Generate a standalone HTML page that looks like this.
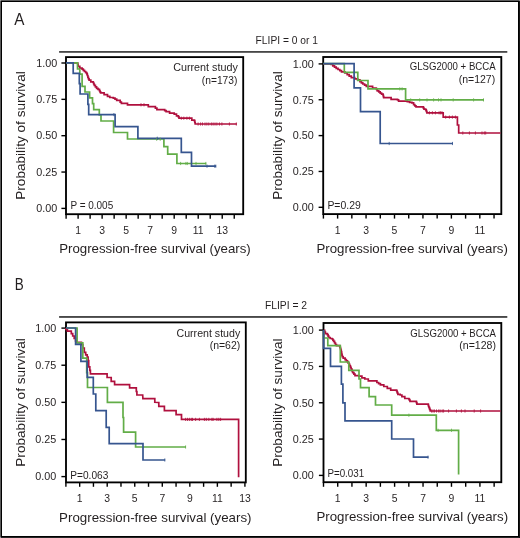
<!DOCTYPE html>
<html><head><meta charset="utf-8"><title>Kaplan-Meier curves</title>
<style>html,body{margin:0;padding:0;background:#fff;width:520px;height:538px;overflow:hidden;font-family:"Liberation Sans",sans-serif;}</style>
</head><body>
<svg width="520" height="538" viewBox="0 0 520 538" style="display:block;will-change:transform;font-family:'Liberation Sans', sans-serif">
<rect x="0" y="0" width="520" height="538" fill="#fff"/>
<rect x="0" y="0" width="520" height="1" fill="#5c5c5c"/>
<rect x="0" y="0" width="1" height="538" fill="#5a5a5a"/>
<rect x="0" y="537" width="520" height="1" fill="#262626"/>
<rect x="519" y="0" width="1" height="538" fill="#141414"/>
<rect x="1" y="1" width="518" height="1" fill="#000"/>
<rect x="1" y="1" width="1" height="536" fill="#000"/>
<rect x="1" y="536" width="518" height="1" fill="#000"/>
<rect x="518" y="1" width="1" height="536" fill="#000"/>
<rect x="0" y="0" width="1" height="1" fill="#999"/>
<rect x="519" y="0" width="1" height="1" fill="#888"/>
<rect x="0" y="537" width="1" height="1" fill="#999"/>
<text x="14.3" y="24.9" font-size="16.2" text-anchor="start" textLength="10.2" lengthAdjust="spacingAndGlyphs" fill="#231f20">A</text>
<text x="14.7" y="290.1" font-size="16.2" text-anchor="start" textLength="9.0" lengthAdjust="spacingAndGlyphs" fill="#231f20">B</text>
<text x="286.75" y="44.2" font-size="10.6" text-anchor="middle" textLength="62.3" lengthAdjust="spacingAndGlyphs" fill="#231f20">FLIPI = 0 or 1</text>
<rect x="59.1" y="51" width="448.2" height="1" fill="#474747"/>
<rect x="59.1" y="52" width="448.2" height="1" fill="#6a6a6a"/>
<text x="286.0" y="309.2" font-size="10.6" text-anchor="middle" textLength="42.2" lengthAdjust="spacingAndGlyphs" fill="#231f20">FLIPI = 2</text>
<rect x="59.1" y="316" width="448.2" height="1" fill="#484848"/>
<rect x="59.1" y="317" width="448.2" height="1" fill="#5c5c5c"/>
<rect x="66.0" y="57.1" width="177.2" height="157.1" fill="none" stroke="#000" stroke-width="1.85"/>
<line x1="61.4" y1="208.4" x2="66.0" y2="208.4" stroke="#000" stroke-width="1.4"/>
<text x="57.3" y="212.15" font-size="10.4" text-anchor="end" textLength="21.0" lengthAdjust="spacingAndGlyphs" fill="#231f20">0.00</text>
<line x1="61.4" y1="172.05" x2="66.0" y2="172.05" stroke="#000" stroke-width="1.4"/>
<text x="57.3" y="175.8" font-size="10.4" text-anchor="end" textLength="21.0" lengthAdjust="spacingAndGlyphs" fill="#231f20">0.25</text>
<line x1="61.4" y1="135.7" x2="66.0" y2="135.7" stroke="#000" stroke-width="1.4"/>
<text x="57.3" y="139.45" font-size="10.4" text-anchor="end" textLength="21.0" lengthAdjust="spacingAndGlyphs" fill="#231f20">0.50</text>
<line x1="61.4" y1="99.35" x2="66.0" y2="99.35" stroke="#000" stroke-width="1.4"/>
<text x="57.3" y="103.1" font-size="10.4" text-anchor="end" textLength="21.0" lengthAdjust="spacingAndGlyphs" fill="#231f20">0.75</text>
<line x1="61.4" y1="63.0" x2="66.0" y2="63.0" stroke="#000" stroke-width="1.4"/>
<text x="57.3" y="66.75" font-size="10.4" text-anchor="end" textLength="21.0" lengthAdjust="spacingAndGlyphs" fill="#231f20">1.00</text>
<line x1="66.1" y1="214.2" x2="66.1" y2="218.7" stroke="#000" stroke-width="1.4"/>
<line x1="78.11" y1="214.2" x2="78.11" y2="218.7" stroke="#000" stroke-width="1.4"/>
<line x1="90.11999999999999" y1="214.2" x2="90.11999999999999" y2="218.7" stroke="#000" stroke-width="1.4"/>
<line x1="102.13" y1="214.2" x2="102.13" y2="218.7" stroke="#000" stroke-width="1.4"/>
<line x1="114.13999999999999" y1="214.2" x2="114.13999999999999" y2="218.7" stroke="#000" stroke-width="1.4"/>
<line x1="126.14999999999999" y1="214.2" x2="126.14999999999999" y2="218.7" stroke="#000" stroke-width="1.4"/>
<line x1="138.16" y1="214.2" x2="138.16" y2="218.7" stroke="#000" stroke-width="1.4"/>
<line x1="150.17" y1="214.2" x2="150.17" y2="218.7" stroke="#000" stroke-width="1.4"/>
<line x1="162.18" y1="214.2" x2="162.18" y2="218.7" stroke="#000" stroke-width="1.4"/>
<line x1="174.19" y1="214.2" x2="174.19" y2="218.7" stroke="#000" stroke-width="1.4"/>
<line x1="186.2" y1="214.2" x2="186.2" y2="218.7" stroke="#000" stroke-width="1.4"/>
<line x1="198.20999999999998" y1="214.2" x2="198.20999999999998" y2="218.7" stroke="#000" stroke-width="1.4"/>
<line x1="210.22" y1="214.2" x2="210.22" y2="218.7" stroke="#000" stroke-width="1.4"/>
<line x1="222.23" y1="214.2" x2="222.23" y2="218.7" stroke="#000" stroke-width="1.4"/>
<line x1="234.23999999999998" y1="214.2" x2="234.23999999999998" y2="218.7" stroke="#000" stroke-width="1.4"/>
<text x="78.11" y="233.6" font-size="10.4" text-anchor="middle" fill="#231f20">1</text>
<text x="102.13" y="233.6" font-size="10.4" text-anchor="middle" fill="#231f20">3</text>
<text x="126.15" y="233.6" font-size="10.4" text-anchor="middle" fill="#231f20">5</text>
<text x="150.17" y="233.6" font-size="10.4" text-anchor="middle" fill="#231f20">7</text>
<text x="174.19" y="233.6" font-size="10.4" text-anchor="middle" fill="#231f20">9</text>
<text x="198.21" y="233.6" font-size="10.4" text-anchor="middle" fill="#231f20">11</text>
<text x="222.23" y="233.6" font-size="10.4" text-anchor="middle" fill="#231f20">13</text>
<text transform="translate(25.1,135.5) rotate(-90)" x="0" y="0" font-size="13.4" text-anchor="middle" textLength="128.5" lengthAdjust="spacingAndGlyphs" fill="#231f20">Probability of survival</text>
<text x="155.0" y="253.0" font-size="13.2" text-anchor="middle" textLength="191.6" lengthAdjust="spacingAndGlyphs" fill="#231f20">Progression-free survival (years)</text>
<text x="237.8" y="71.1" font-size="10.4" text-anchor="end" textLength="64.6" lengthAdjust="spacingAndGlyphs" fill="#231f20">Current study</text>
<text x="237.4" y="83.8" font-size="10.4" text-anchor="end" textLength="35.6" lengthAdjust="spacingAndGlyphs" fill="#231f20">(n=173)</text>
<text x="70.4" y="208.8" font-size="10.4" text-anchor="start" textLength="42.8" lengthAdjust="spacingAndGlyphs" fill="#231f20">P = 0.005</text>
<rect x="323.2" y="57.0" width="178.10000000000002" height="157.1" fill="none" stroke="#000" stroke-width="1.85"/>
<line x1="318.59999999999997" y1="207.3" x2="323.2" y2="207.3" stroke="#000" stroke-width="1.4"/>
<text x="313.7" y="211.05" font-size="10.4" text-anchor="end" textLength="21.0" lengthAdjust="spacingAndGlyphs" fill="#231f20">0.00</text>
<line x1="318.59999999999997" y1="171.45000000000002" x2="323.2" y2="171.45000000000002" stroke="#000" stroke-width="1.4"/>
<text x="313.7" y="175.2" font-size="10.4" text-anchor="end" textLength="21.0" lengthAdjust="spacingAndGlyphs" fill="#231f20">0.25</text>
<line x1="318.59999999999997" y1="135.60000000000002" x2="323.2" y2="135.60000000000002" stroke="#000" stroke-width="1.4"/>
<text x="313.7" y="139.35" font-size="10.4" text-anchor="end" textLength="21.0" lengthAdjust="spacingAndGlyphs" fill="#231f20">0.50</text>
<line x1="318.59999999999997" y1="99.75" x2="323.2" y2="99.75" stroke="#000" stroke-width="1.4"/>
<text x="313.7" y="103.5" font-size="10.4" text-anchor="end" textLength="21.0" lengthAdjust="spacingAndGlyphs" fill="#231f20">0.75</text>
<line x1="318.59999999999997" y1="63.900000000000006" x2="323.2" y2="63.900000000000006" stroke="#000" stroke-width="1.4"/>
<text x="313.7" y="67.65" font-size="10.4" text-anchor="end" textLength="21.0" lengthAdjust="spacingAndGlyphs" fill="#231f20">1.00</text>
<line x1="323.4" y1="214.1" x2="323.4" y2="218.6" stroke="#000" stroke-width="1.4"/>
<line x1="337.62" y1="214.1" x2="337.62" y2="218.6" stroke="#000" stroke-width="1.4"/>
<line x1="351.84" y1="214.1" x2="351.84" y2="218.6" stroke="#000" stroke-width="1.4"/>
<line x1="366.06" y1="214.1" x2="366.06" y2="218.6" stroke="#000" stroke-width="1.4"/>
<line x1="380.28" y1="214.1" x2="380.28" y2="218.6" stroke="#000" stroke-width="1.4"/>
<line x1="394.5" y1="214.1" x2="394.5" y2="218.6" stroke="#000" stroke-width="1.4"/>
<line x1="408.71999999999997" y1="214.1" x2="408.71999999999997" y2="218.6" stroke="#000" stroke-width="1.4"/>
<line x1="422.94" y1="214.1" x2="422.94" y2="218.6" stroke="#000" stroke-width="1.4"/>
<line x1="437.15999999999997" y1="214.1" x2="437.15999999999997" y2="218.6" stroke="#000" stroke-width="1.4"/>
<line x1="451.38" y1="214.1" x2="451.38" y2="218.6" stroke="#000" stroke-width="1.4"/>
<line x1="465.6" y1="214.1" x2="465.6" y2="218.6" stroke="#000" stroke-width="1.4"/>
<line x1="479.82" y1="214.1" x2="479.82" y2="218.6" stroke="#000" stroke-width="1.4"/>
<line x1="494.03999999999996" y1="214.1" x2="494.03999999999996" y2="218.6" stroke="#000" stroke-width="1.4"/>
<text x="337.62" y="233.6" font-size="10.4" text-anchor="middle" fill="#231f20">1</text>
<text x="366.06" y="233.6" font-size="10.4" text-anchor="middle" fill="#231f20">3</text>
<text x="394.5" y="233.6" font-size="10.4" text-anchor="middle" fill="#231f20">5</text>
<text x="422.94" y="233.6" font-size="10.4" text-anchor="middle" fill="#231f20">7</text>
<text x="451.38" y="233.6" font-size="10.4" text-anchor="middle" fill="#231f20">9</text>
<text x="479.82" y="233.6" font-size="10.4" text-anchor="middle" fill="#231f20">11</text>
<text transform="translate(282.1,135.5) rotate(-90)" x="0" y="0" font-size="13.4" text-anchor="middle" textLength="128.5" lengthAdjust="spacingAndGlyphs" fill="#231f20">Probability of survival</text>
<text x="412.15" y="253.2" font-size="13.2" text-anchor="middle" textLength="191.5" lengthAdjust="spacingAndGlyphs" fill="#231f20">Progression-free survival (years)</text>
<text x="495.7" y="70.1" font-size="10.4" text-anchor="end" textLength="86.0" lengthAdjust="spacingAndGlyphs" fill="#231f20">GLSG2000 + BCCA</text>
<text x="495.2" y="83.3" font-size="10.4" text-anchor="end" textLength="36.5" lengthAdjust="spacingAndGlyphs" fill="#231f20">(n=127)</text>
<text x="327.4" y="208.6" font-size="10.4" text-anchor="start" textLength="33.4" lengthAdjust="spacingAndGlyphs" fill="#231f20">P=0.29</text>
<rect x="66.0" y="322.4" width="179.8" height="160.0" fill="none" stroke="#000" stroke-width="1.85"/>
<line x1="61.4" y1="476.6" x2="66.0" y2="476.6" stroke="#000" stroke-width="1.4"/>
<text x="56.2" y="480.35" font-size="10.4" text-anchor="end" textLength="21.0" lengthAdjust="spacingAndGlyphs" fill="#231f20">0.00</text>
<line x1="61.4" y1="439.475" x2="66.0" y2="439.475" stroke="#000" stroke-width="1.4"/>
<text x="56.2" y="443.23" font-size="10.4" text-anchor="end" textLength="21.0" lengthAdjust="spacingAndGlyphs" fill="#231f20">0.25</text>
<line x1="61.4" y1="402.35" x2="66.0" y2="402.35" stroke="#000" stroke-width="1.4"/>
<text x="56.2" y="406.1" font-size="10.4" text-anchor="end" textLength="21.0" lengthAdjust="spacingAndGlyphs" fill="#231f20">0.50</text>
<line x1="61.4" y1="365.225" x2="66.0" y2="365.225" stroke="#000" stroke-width="1.4"/>
<text x="56.2" y="368.98" font-size="10.4" text-anchor="end" textLength="21.0" lengthAdjust="spacingAndGlyphs" fill="#231f20">0.75</text>
<line x1="61.4" y1="328.1" x2="66.0" y2="328.1" stroke="#000" stroke-width="1.4"/>
<text x="56.2" y="331.85" font-size="10.4" text-anchor="end" textLength="21.0" lengthAdjust="spacingAndGlyphs" fill="#231f20">1.00</text>
<line x1="65.9" y1="482.4" x2="65.9" y2="486.8" stroke="#000" stroke-width="1.4"/>
<line x1="79.67" y1="482.4" x2="79.67" y2="486.8" stroke="#000" stroke-width="1.4"/>
<line x1="93.44" y1="482.4" x2="93.44" y2="486.8" stroke="#000" stroke-width="1.4"/>
<line x1="107.21000000000001" y1="482.4" x2="107.21000000000001" y2="486.8" stroke="#000" stroke-width="1.4"/>
<line x1="120.98" y1="482.4" x2="120.98" y2="486.8" stroke="#000" stroke-width="1.4"/>
<line x1="134.75" y1="482.4" x2="134.75" y2="486.8" stroke="#000" stroke-width="1.4"/>
<line x1="148.52" y1="482.4" x2="148.52" y2="486.8" stroke="#000" stroke-width="1.4"/>
<line x1="162.29000000000002" y1="482.4" x2="162.29000000000002" y2="486.8" stroke="#000" stroke-width="1.4"/>
<line x1="176.06" y1="482.4" x2="176.06" y2="486.8" stroke="#000" stroke-width="1.4"/>
<line x1="189.82999999999998" y1="482.4" x2="189.82999999999998" y2="486.8" stroke="#000" stroke-width="1.4"/>
<line x1="203.6" y1="482.4" x2="203.6" y2="486.8" stroke="#000" stroke-width="1.4"/>
<line x1="217.37" y1="482.4" x2="217.37" y2="486.8" stroke="#000" stroke-width="1.4"/>
<line x1="231.14000000000001" y1="482.4" x2="231.14000000000001" y2="486.8" stroke="#000" stroke-width="1.4"/>
<line x1="244.91" y1="482.4" x2="244.91" y2="486.8" stroke="#000" stroke-width="1.4"/>
<text x="79.67" y="501.7" font-size="10.4" text-anchor="middle" fill="#231f20">1</text>
<text x="107.21" y="501.7" font-size="10.4" text-anchor="middle" fill="#231f20">3</text>
<text x="134.75" y="501.7" font-size="10.4" text-anchor="middle" fill="#231f20">5</text>
<text x="162.29" y="501.7" font-size="10.4" text-anchor="middle" fill="#231f20">7</text>
<text x="189.83" y="501.7" font-size="10.4" text-anchor="middle" fill="#231f20">9</text>
<text x="217.37" y="501.7" font-size="10.4" text-anchor="middle" fill="#231f20">11</text>
<text x="244.91" y="501.7" font-size="10.4" text-anchor="middle" fill="#231f20">13</text>
<text transform="translate(25.0,402.45) rotate(-90)" x="0" y="0" font-size="13.4" text-anchor="middle" textLength="128.5" lengthAdjust="spacingAndGlyphs" fill="#231f20">Probability of survival</text>
<text x="155.3" y="521.7" font-size="13.2" text-anchor="middle" textLength="192.4" lengthAdjust="spacingAndGlyphs" fill="#231f20">Progression-free survival (years)</text>
<text x="240.2" y="336.7" font-size="10.4" text-anchor="end" textLength="63.7" lengthAdjust="spacingAndGlyphs" fill="#231f20">Current study</text>
<text x="240.2" y="349.4" font-size="10.4" text-anchor="end" textLength="30.5" lengthAdjust="spacingAndGlyphs" fill="#231f20">(n=62)</text>
<text x="70.3" y="479.3" font-size="10.4" text-anchor="start" textLength="38.0" lengthAdjust="spacingAndGlyphs" fill="#231f20">P=0.063</text>
<rect x="323.5" y="323.0" width="177.8" height="159.2" fill="none" stroke="#000" stroke-width="1.85"/>
<line x1="318.9" y1="475.4" x2="323.5" y2="475.4" stroke="#000" stroke-width="1.4"/>
<text x="313.8" y="479.15" font-size="10.4" text-anchor="end" textLength="21.0" lengthAdjust="spacingAndGlyphs" fill="#231f20">0.00</text>
<line x1="318.9" y1="439.075" x2="323.5" y2="439.075" stroke="#000" stroke-width="1.4"/>
<text x="313.8" y="442.82" font-size="10.4" text-anchor="end" textLength="21.0" lengthAdjust="spacingAndGlyphs" fill="#231f20">0.25</text>
<line x1="318.9" y1="402.75" x2="323.5" y2="402.75" stroke="#000" stroke-width="1.4"/>
<text x="313.8" y="406.5" font-size="10.4" text-anchor="end" textLength="21.0" lengthAdjust="spacingAndGlyphs" fill="#231f20">0.50</text>
<line x1="318.9" y1="366.425" x2="323.5" y2="366.425" stroke="#000" stroke-width="1.4"/>
<text x="313.8" y="370.18" font-size="10.4" text-anchor="end" textLength="21.0" lengthAdjust="spacingAndGlyphs" fill="#231f20">0.75</text>
<line x1="318.9" y1="330.1" x2="323.5" y2="330.1" stroke="#000" stroke-width="1.4"/>
<text x="313.8" y="333.85" font-size="10.4" text-anchor="end" textLength="21.0" lengthAdjust="spacingAndGlyphs" fill="#231f20">1.00</text>
<line x1="323.5" y1="482.2" x2="323.5" y2="486.8" stroke="#000" stroke-width="1.4"/>
<line x1="337.72" y1="482.2" x2="337.72" y2="486.8" stroke="#000" stroke-width="1.4"/>
<line x1="351.94" y1="482.2" x2="351.94" y2="486.8" stroke="#000" stroke-width="1.4"/>
<line x1="366.16" y1="482.2" x2="366.16" y2="486.8" stroke="#000" stroke-width="1.4"/>
<line x1="380.38" y1="482.2" x2="380.38" y2="486.8" stroke="#000" stroke-width="1.4"/>
<line x1="394.6" y1="482.2" x2="394.6" y2="486.8" stroke="#000" stroke-width="1.4"/>
<line x1="408.82" y1="482.2" x2="408.82" y2="486.8" stroke="#000" stroke-width="1.4"/>
<line x1="423.04" y1="482.2" x2="423.04" y2="486.8" stroke="#000" stroke-width="1.4"/>
<line x1="437.26" y1="482.2" x2="437.26" y2="486.8" stroke="#000" stroke-width="1.4"/>
<line x1="451.48" y1="482.2" x2="451.48" y2="486.8" stroke="#000" stroke-width="1.4"/>
<line x1="465.70000000000005" y1="482.2" x2="465.70000000000005" y2="486.8" stroke="#000" stroke-width="1.4"/>
<line x1="479.92" y1="482.2" x2="479.92" y2="486.8" stroke="#000" stroke-width="1.4"/>
<line x1="494.14" y1="482.2" x2="494.14" y2="486.8" stroke="#000" stroke-width="1.4"/>
<text x="337.72" y="501.6" font-size="10.4" text-anchor="middle" fill="#231f20">1</text>
<text x="366.16" y="501.6" font-size="10.4" text-anchor="middle" fill="#231f20">3</text>
<text x="394.6" y="501.6" font-size="10.4" text-anchor="middle" fill="#231f20">5</text>
<text x="423.04" y="501.6" font-size="10.4" text-anchor="middle" fill="#231f20">7</text>
<text x="451.48" y="501.6" font-size="10.4" text-anchor="middle" fill="#231f20">9</text>
<text x="479.92" y="501.6" font-size="10.4" text-anchor="middle" fill="#231f20">11</text>
<text transform="translate(282.2,402.6) rotate(-90)" x="0" y="0" font-size="13.4" text-anchor="middle" textLength="128.5" lengthAdjust="spacingAndGlyphs" fill="#231f20">Probability of survival</text>
<text x="412.3" y="521.4" font-size="13.2" text-anchor="middle" textLength="191.6" lengthAdjust="spacingAndGlyphs" fill="#231f20">Progression-free survival (years)</text>
<text x="496.0" y="337.1" font-size="10.4" text-anchor="end" textLength="85.7" lengthAdjust="spacingAndGlyphs" fill="#231f20">GLSG2000 + BCCA</text>
<text x="496.0" y="348.8" font-size="10.4" text-anchor="end" textLength="36.7" lengthAdjust="spacingAndGlyphs" fill="#231f20">(n=128)</text>
<text x="327.4" y="477.0" font-size="10.4" text-anchor="start" textLength="36.8" lengthAdjust="spacingAndGlyphs" fill="#231f20">P=0.031</text>
<path d="M66.0,63.0 L77.5,63.0 L77.8,63.0 L77.8,64.7 L78.1,64.7 L78.1,66.3 L79.8,66.3 L79.8,68.1 L82.1,68.1 L82.1,69.2 L83.3,69.2 L83.3,70.3 L84.5,70.3 L84.5,71.5 L85.7,71.5 L85.7,72.7 L86.8,72.7 L86.8,73.8 L87.3,73.8 L87.3,75.5 L87.9,75.5 L87.9,77.3 L88.5,77.3 L88.5,78.8 L89.1,78.8 L89.1,80.2 L90.8,80.2 L90.8,81.9 L93.1,81.9 L93.1,82.5 L93.7,82.5 L93.7,84.0 L94.3,84.0 L94.3,85.4 L95.4,85.4 L95.4,86.8 L96.6,86.8 L96.6,88.3 L98.0,88.3 L98.0,89.4 L99.4,89.4 L99.4,90.6 L100.0,90.6 L100.0,91.8 L100.6,91.8 L100.6,92.9 L104.1,92.9 L104.1,94.6 L107.5,94.6 L107.5,96.3 L109.8,96.3 L109.8,97.5 L113.3,97.5 L113.3,98.1 L115.0,98.1 L115.0,99.2 L116.7,99.2 L116.7,100.4 L120.2,100.4 L120.2,102.1 L121.4,102.1 L121.4,103.4 L126.9,103.4 L127.5,103.4 L127.5,104.8 L147.1,104.8 L148.3,104.8 L148.3,106.7 L154.0,106.7 L155.4,106.7 L155.4,108.2 L156.9,108.2 L156.9,109.6 L163.3,109.6 L164.7,109.6 L164.7,110.7 L166.1,110.7 L166.1,111.7 L169.6,111.7 L169.6,113.1 L174.2,113.1 L174.2,114.2 L176.5,114.2 L176.5,115.8 L178.4,115.8 L178.4,116.8 L179.0,116.8 L179.0,118.2 L191.2,118.2 L191.8,118.2 L191.8,120.2 L194.5,120.2 L194.5,120.9 L194.8,120.9 L194.8,122.5 L195.2,122.5 L195.2,124.0 L236.9,124.0" fill="none" stroke="#b0103e" stroke-width="1.7" stroke-linejoin="miter" stroke-linecap="butt"/>
<path d="M323.3,63.8 L331.1,63.8 L331.1,64.3 L332.8,64.3 L332.8,65.8 L334.5,65.8 L334.5,67.2 L336.2,67.2 L336.2,68.3 L338.0,68.3 L338.0,69.5 L339.8,69.5 L339.8,70.7 L341.5,70.7 L341.5,71.8 L344.9,71.8 L344.9,73.0 L347.2,73.0 L347.2,74.7 L349.2,74.7 L349.2,76.2 L351.3,76.2 L351.3,77.6 L354.7,77.6 L354.7,78.8 L357.6,78.8 L357.6,79.9 L359.9,79.9 L359.9,81.6 L361.4,81.6 L361.4,82.8 L362.8,82.8 L362.8,84.0 L364.6,84.0 L364.6,85.2 L366.3,85.2 L366.3,86.3 L369.1,86.3 L372.6,86.3 L372.6,88.0 L376.1,88.0 L376.1,88.6 L376.7,88.6 L376.7,89.7 L377.3,89.7 L377.3,90.8 L378.8,90.8 L378.8,91.9 L380.2,91.9 L380.2,93.1 L381.6,93.1 L381.6,94.2 L383.1,94.2 L383.1,95.4 L383.4,95.4 L383.4,96.6 L383.7,96.6 L383.7,97.7 L390.0,97.7 L391.1,97.7 L391.1,99.4 L397.5,99.4 L397.5,99.8 L398.6,99.8 L398.6,101.1 L405.0,101.1 L407.3,101.1 L407.3,101.7 L409.6,101.7 L409.6,102.3 L411.9,102.3 L411.9,102.9 L413.6,102.9 L413.6,104.6 L414.8,104.6 L414.8,105.8 L416.0,105.8 L416.0,106.9 L422.9,106.9 L423.4,106.9 L423.4,108.1 L424.0,108.1 L424.0,109.2 L425.7,109.2 L425.7,109.8 L426.3,109.8 L426.3,111.3 L426.9,111.3 L426.9,112.8 L443.2,112.8 L443.2,117.1 L457.4,117.1 L457.4,125.0 L458.7,125.0 L458.7,133.0 L500.5,133.0" fill="none" stroke="#b0103e" stroke-width="1.7" stroke-linejoin="miter" stroke-linecap="butt"/>
<path d="M66.0,328.1 L66.0,329.3 L67.4,329.3 L67.4,331.2 L70.3,331.2 L71.3,331.2 L71.3,333.6 L72.7,333.6 L72.7,336.0 L74.2,336.0 L74.2,338.4 L75.6,338.4 L75.6,340.8 L76.6,340.8 L76.6,342.3 L80.4,342.3 L81.4,342.3 L81.4,344.7 L82.8,344.7 L82.8,348.0 L84.3,348.0 L84.3,352.4 L85.7,352.4 L85.7,354.8 L87.2,354.8 L87.2,357.2 L88.1,357.2 L88.1,360.5 L88.7,360.5 L88.7,366.9 L89.8,366.9 L89.8,370.4 L90.4,370.4 L90.4,373.8 L107.1,373.8 L107.1,377.5 L111.2,377.5 L111.2,381.3 L114.6,381.3 L114.6,384.6 L129.6,384.6 L129.6,387.9 L135.8,387.9 L136.3,387.9 L136.3,391.5 L136.9,391.5 L136.9,395.0 L142.7,395.0 L142.9,398.7 L154.2,398.7 L154.8,398.7 L154.8,402.3 L158.3,402.5 L158.8,402.5 L158.8,406.4 L164.0,406.4 L164.4,406.4 L164.4,410.6 L175.6,410.6 L176.1,410.6 L176.1,414.7 L181.5,414.7 L181.5,419.4 L238.6,419.4 L238.6,477.2" fill="none" stroke="#b0103e" stroke-width="1.7" stroke-linejoin="miter" stroke-linecap="butt"/>
<path d="M323.6,330.1 L324.0,330.3 L324.7,330.3 L324.7,332.0 L325.4,332.0 L325.4,333.7 L327.3,333.7 L327.3,334.6 L328.1,334.6 L328.1,336.1 L328.8,336.1 L328.8,337.5 L330.2,337.5 L330.2,338.5 L332.1,338.5 L332.1,339.0 L332.9,339.0 L332.9,340.1 L333.6,340.1 L333.6,341.3 L334.6,341.3 L334.6,343.0 L335.5,343.0 L335.5,344.7 L336.5,344.7 L336.5,345.7 L339.3,345.7 L339.8,345.7 L339.8,346.9 L340.3,346.9 L340.3,348.1 L340.6,348.1 L340.6,349.4 L341.0,349.4 L341.0,350.6 L341.3,350.6 L341.3,351.9 L341.6,351.9 L341.6,353.5 L341.9,353.5 L341.9,355.1 L342.2,355.1 L342.2,356.7 L343.2,356.7 L343.2,358.2 L345.1,358.2 L345.1,359.6 L346.3,359.6 L346.3,360.8 L347.5,360.8 L347.5,362.0 L348.2,362.0 L348.2,363.2 L349.0,363.2 L349.0,364.4 L349.7,364.4 L349.7,365.9 L350.4,365.9 L350.4,367.3 L351.1,367.3 L351.1,368.8 L351.8,368.8 L351.8,370.2 L352.2,370.2 L352.2,371.4 L352.7,371.4 L352.7,372.7 L353.9,372.7 L353.9,374.1 L355.0,374.1 L355.0,375.6 L359.0,375.6 L359.0,376.1 L361.9,376.1 L361.9,377.9 L364.8,377.9 L364.8,379.0 L368.3,379.0 L368.3,380.8 L373.4,380.8 L376.9,380.8 L376.9,382.5 L378.6,382.5 L378.6,383.6 L380.4,383.6 L380.4,384.8 L383.8,384.8 L383.8,386.5 L387.3,386.5 L387.3,388.3 L390.7,388.3 L390.7,390.2 L396.5,390.2 L396.5,390.6 L397.0,390.6 L397.0,391.9 L397.4,391.9 L397.4,393.1 L397.9,393.1 L397.9,394.4 L400.2,394.4 L400.2,395.0 L401.9,395.0 L401.9,396.7 L404.8,396.7 L404.8,398.5 L408.8,398.5 L408.8,399.0 L409.4,399.0 L409.4,400.1 L410.0,400.1 L410.0,401.3 L415.8,401.3 L416.4,401.3 L416.4,402.7 L416.9,402.7 L416.9,404.1 L427.9,404.1 L428.3,404.1 L428.3,405.3 L428.6,405.3 L428.6,406.5 L429.0,406.5 L429.0,407.7 L429.6,407.7 L429.6,409.4 L430.2,409.4 L430.2,411.0 L500.5,411.0" fill="none" stroke="#b0103e" stroke-width="1.7" stroke-linejoin="miter" stroke-linecap="butt"/>
<path d="M66.0,62.8 L77.5,62.8 L77.5,69.0 L79.8,69.0 L79.8,74.1 L82.1,74.1 L82.1,86.3 L85.0,86.3 L85.0,92.0 L89.6,92.0 L89.6,97.8 L92.5,97.8 L92.5,103.6 L93.7,103.6 L93.7,109.6 L99.3,109.6 L99.3,115.0 L101.0,115.0 L101.0,121.0 L113.6,121.0 L113.6,132.5 L127.5,132.5 L127.5,139.0 L163.9,139.0 L163.9,146.7 L167.7,146.7 L167.7,154.2 L176.9,154.2 L176.9,163.5 L206.3,163.5" fill="none" stroke="#62ad47" stroke-width="1.7" stroke-linejoin="miter" stroke-linecap="butt"/>
<path d="M323.3,63.6 L344.3,63.6 L344.3,72.4 L357.8,72.4 L357.8,80.5 L368.0,80.5 L368.0,88.9 L405.6,88.9 L405.6,99.9 L484.0,99.9" fill="none" stroke="#62ad47" stroke-width="1.7" stroke-linejoin="miter" stroke-linecap="butt"/>
<path d="M66.0,328.0 L77.1,328.0 L77.1,342.8 L82.8,342.8 L82.8,358.1 L86.7,358.1 L86.7,372.7 L87.5,372.7 L87.5,387.5 L107.4,387.5 L107.4,402.4 L123.0,402.4 L123.0,417.5 L123.6,417.5 L123.6,432.2 L135.6,432.2 L135.6,447.0 L186.0,447.0" fill="none" stroke="#62ad47" stroke-width="1.7" stroke-linejoin="miter" stroke-linecap="butt"/>
<path d="M323.6,330.1 L323.6,338.0 L327.8,338.0 L327.8,345.7 L340.3,345.7 L340.3,362.0 L348.8,362.0 L348.8,370.3 L359.0,370.3 L359.0,379.0 L360.5,379.0 L360.5,387.7 L369.1,387.7 L369.1,396.7 L375.5,396.7 L375.5,405.0 L391.7,405.0 L391.7,415.2 L436.3,415.2 L436.3,430.3 L458.6,430.3 L458.6,474.4" fill="none" stroke="#62ad47" stroke-width="1.7" stroke-linejoin="miter" stroke-linecap="butt"/>
<path d="M66.0,62.8 L73.2,62.8 L73.2,73.3 L79.3,73.3 L79.3,83.6 L80.1,83.6 L80.1,94.0 L87.9,94.0 L87.9,104.4 L88.7,104.4 L88.7,114.6 L115.1,114.6 L115.1,126.7 L137.9,126.7 L137.9,138.3 L181.3,138.3 L181.3,152.4 L191.5,152.4 L191.5,166.2 L216.1,166.2" fill="none" stroke="#36558f" stroke-width="1.7" stroke-linejoin="miter" stroke-linecap="butt"/>
<path d="M323.3,63.6 L354.1,63.6 L354.1,87.8 L360.5,87.8 L360.5,111.6 L380.2,111.6 L380.2,143.5 L452.9,143.5" fill="none" stroke="#36558f" stroke-width="1.7" stroke-linejoin="miter" stroke-linecap="butt"/>
<path d="M66.0,328.0 L75.6,328.0 L75.6,344.4 L80.9,344.4 L80.9,361.3 L87.2,361.3 L87.2,377.3 L93.3,377.3 L93.3,394.0 L95.8,394.0 L95.8,410.6 L106.2,410.6 L106.2,427.4 L109.2,427.4 L109.2,443.6 L143.0,443.6 L143.0,460.0 L165.2,460.0" fill="none" stroke="#36558f" stroke-width="1.7" stroke-linejoin="miter" stroke-linecap="butt"/>
<path d="M323.6,330.1 L323.6,348.3 L330.5,348.3 L330.5,366.4 L341.4,366.4 L341.4,384.2 L342.9,384.2 L342.9,402.8 L345.0,402.8 L345.0,420.9 L391.7,420.9 L391.7,439.0 L413.5,439.0 L413.5,457.2 L428.5,457.2" fill="none" stroke="#36558f" stroke-width="1.7" stroke-linejoin="miter" stroke-linecap="butt"/>
<path d="M198.1,122.4 L198.1,125.6 M200.6,122.4 L200.6,125.6 M202.5,122.4 L202.5,125.6 M205.0,122.4 L205.0,125.6 M206.9,122.4 L206.9,125.6 M208.8,122.4 L208.8,125.6 M211.3,122.4 L211.3,125.6 M213.1,122.4 L213.1,125.6 M215.0,122.4 L215.0,125.6 M216.9,122.4 L216.9,125.6 M219.4,122.4 L219.4,125.6 M221.9,122.4 L221.9,125.6 M229.4,122.4 L229.4,125.6 M236.3,122.4 L236.3,125.6" stroke="#b0103e" stroke-width="0.8" fill="none"/>
<path d="M181.3,116.6 L181.3,119.8 M183.8,116.6 L183.8,119.8 M186.9,116.6 L186.9,119.8 M189.4,116.6 L189.4,119.8" stroke="#b0103e" stroke-width="0.8" fill="none"/>
<path d="M141.0,103.2 L141.0,106.4 M144.0,103.2 L144.0,106.4" stroke="#b0103e" stroke-width="0.8" fill="none"/>
<path d="M180.6,161.9 L180.6,165.1 M185.9,161.9 L185.9,165.1 M187.3,161.9 L187.3,165.1 M196.0,161.9 L196.0,165.1 M205.8,161.9 L205.8,165.1" stroke="#62ad47" stroke-width="0.8" fill="none"/>
<path d="M156.7,137.6 L156.7,140.8 M160.2,137.6 L160.2,140.8" stroke="#62ad47" stroke-width="0.8" fill="none"/>
<path d="M207.0,164.6 L207.0,167.8 M214.7,164.6 L214.7,167.8 M215.8,164.6 L215.8,167.8" stroke="#36558f" stroke-width="0.8" fill="none"/>
<path d="M157.3,136.7 L157.3,139.9" stroke="#36558f" stroke-width="0.8" fill="none"/>
<path d="M113.9,113.0 L113.9,116.2" stroke="#36558f" stroke-width="0.8" fill="none"/>
<path d="M410.7,98.3 L410.7,101.5 M419.7,98.3 L419.7,101.5 M427.0,98.3 L427.0,101.5 M433.6,98.3 L433.6,101.5 M438.5,98.3 L438.5,101.5 M441.0,98.3 L441.0,101.5 M453.2,98.3 L453.2,101.5 M473.6,98.3 L473.6,101.5 M483.5,98.3 L483.5,101.5" stroke="#62ad47" stroke-width="0.8" fill="none"/>
<path d="M399.8,87.3 L399.8,90.5 M402.1,87.3 L402.1,90.5" stroke="#62ad47" stroke-width="0.8" fill="none"/>
<path d="M429.4,111.2 L429.4,114.4 M432.4,111.2 L432.4,114.4 M435.4,111.2 L435.4,114.4 M439.1,111.2 L439.1,114.4 M440.6,111.2 L440.6,114.4 M442.0,111.2 L442.0,114.4" stroke="#b0103e" stroke-width="0.8" fill="none"/>
<path d="M445.7,115.5 L445.7,118.7 M449.4,115.5 L449.4,118.7 M452.4,115.5 L452.4,118.7 M455.4,115.5 L455.4,118.7" stroke="#b0103e" stroke-width="0.8" fill="none"/>
<path d="M462.8,131.4 L462.8,134.6 M469.4,131.4 L469.4,134.6 M475.4,131.4 L475.4,134.6 M482.0,131.4 L482.0,134.6 M484.3,131.4 L484.3,134.6 M485.7,131.4 L485.7,134.6" stroke="#b0103e" stroke-width="0.8" fill="none"/>
<path d="M389.2,141.9 L389.2,145.1 M452.5,141.9 L452.5,145.1" stroke="#36558f" stroke-width="0.8" fill="none"/>
<path d="M185.6,417.8 L185.6,421.0 M187.5,417.8 L187.5,421.0 M189.4,417.8 L189.4,421.0 M191.3,417.8 L191.3,421.0 M192.5,417.8 L192.5,421.0 M195.6,417.8 L195.6,421.0 M199.4,417.8 L199.4,421.0 M204.4,417.8 L204.4,421.0 M206.3,417.8 L206.3,421.0 M208.8,417.8 L208.8,421.0 M211.9,417.8 L211.9,421.0 M213.1,417.8 L213.1,421.0 M216.9,417.8 L216.9,421.0 M218.8,417.8 L218.8,421.0 M220.6,417.8 L220.6,421.0" stroke="#b0103e" stroke-width="0.8" fill="none"/>
<path d="M185.6,445.4 L185.6,448.6" stroke="#62ad47" stroke-width="0.8" fill="none"/>
<path d="M164.8,458.4 L164.8,461.6" stroke="#36558f" stroke-width="0.8" fill="none"/>
<path d="M431.6,409.4 L431.6,412.6 M433.0,409.4 L433.0,412.6 M434.4,409.4 L434.4,412.6 M436.5,409.4 L436.5,412.6 M438.7,409.4 L438.7,412.6 M440.1,409.4 L440.1,412.6 M442.2,409.4 L442.2,412.6 M443.6,409.4 L443.6,412.6 M448.6,409.4 L448.6,412.6 M456.4,409.4 L456.4,412.6 M461.4,409.4 L461.4,412.6 M465.0,409.4 L465.0,412.6 M474.2,409.4 L474.2,412.6 M480.6,409.4 L480.6,412.6" stroke="#b0103e" stroke-width="0.8" fill="none"/>
<path d="M438.1,428.7 L438.1,431.9 M451.5,428.7 L451.5,431.9" stroke="#62ad47" stroke-width="0.8" fill="none"/>
<path d="M408.9,413.6 L408.9,416.8" stroke="#62ad47" stroke-width="0.8" fill="none"/>
<path d="M428.0,455.6 L428.0,458.8" stroke="#36558f" stroke-width="0.8" fill="none"/>
</svg>
</body></html>
